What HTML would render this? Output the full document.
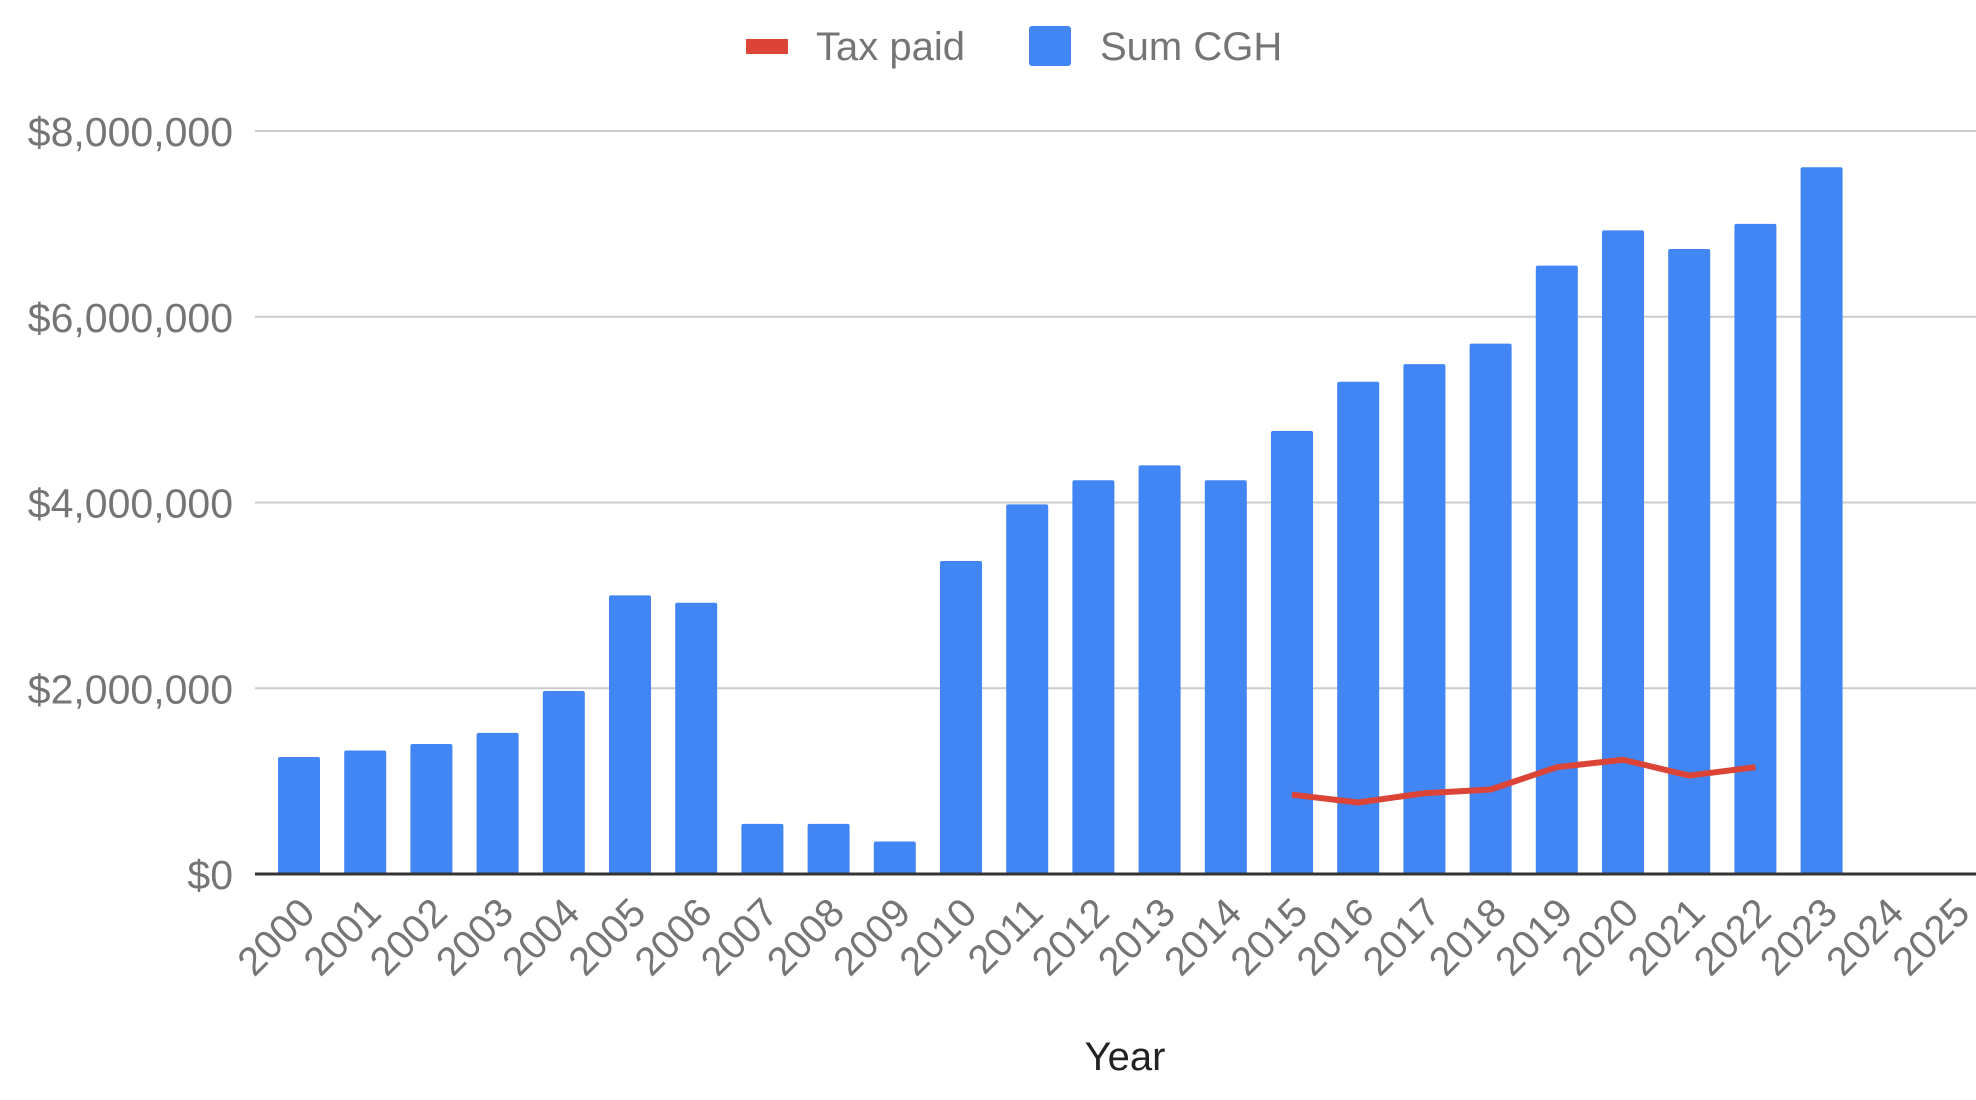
<!DOCTYPE html>
<html><head><meta charset="utf-8"><style>
html,body{margin:0;padding:0;background:#fff;}
svg{display:block;font-family:"Liberation Sans",Arial,sans-serif;}
</style></head><body>
<svg id="chart" width="1976" height="1100" viewBox="0 0 1976 1100" xmlns="http://www.w3.org/2000/svg">
<g>
  <g>
    <rect x="746" y="39" width="42" height="15" fill="#db4437"/>
    <text x="816" y="60" font-size="40" fill="#757575">Tax paid</text>
  </g>
  <g>
    <rect x="1029" y="26" width="42" height="40" rx="3" fill="#4285f4"/>
    <text x="1100" y="60" font-size="40" fill="#757575">Sum CGH</text>
  </g>
</g>
<g id="grid"></g>
<g id="yaxis"></g>
<g id="bars"></g>
<line x1="255" y1="874" x2="1976" y2="874" stroke="#333" stroke-width="3"/>
<g id="line"></g>
<g id="xaxis"></g>
<text x="1125" y="1070" font-size="40" fill="#222" text-anchor="middle">Year</text>
</svg>
<script>
const categories = ["2000","2001","2002","2003","2004","2005","2006","2007","2008","2009","2010","2011","2012","2013","2014","2015","2016","2017","2018","2019","2020","2021","2022","2023","2024","2025"];
const sumCGH = [1260000,1330000,1400000,1520000,1970000,3000000,2920000,540000,540000,350000,3370000,3980000,4240000,4400000,4240000,4770000,5300000,5490000,5710000,6550000,6930000,6730000,7000000,7610000,null,null];
const taxPaid = [null,null,null,null,null,null,null,null,null,null,null,null,null,null,null,854000,770000,870000,910000,1150000,1230000,1060000,1150000,null,null,null];
const yTicks = [0,2000000,4000000,6000000,8000000];
const yTickLabels = ["$0","$2,000,000","$4,000,000","$6,000,000","$8,000,000"];

const NS="http://www.w3.org/2000/svg";
const y0=874, y8=131, band=66.2, firstCenter=299, barW=42;
function yScale(v){return y0-(v/8000000)*(y0-y8);}
function xScale(i){return firstCenter+i*band;}
function mk(tag,attrs,parent){const e=document.createElementNS(NS,tag);for(const k in attrs)e.setAttribute(k,attrs[k]);parent.appendChild(e);return e;}

const grid=document.getElementById('grid'), yax=document.getElementById('yaxis');
yTicks.forEach((t,i)=>{
  if(t>0){
    const l=mk('line',{x1:255,x2:1976,y1:yScale(t),y2:yScale(t),stroke:'#cccccc','stroke-width':2},grid);
    
    
  }
  const tx=mk('text',{x:233,y:yScale(t)+15,'font-size':41,fill:'#757575','text-anchor':'end'},yax);
  tx.textContent=yTickLabels[i];
  
  
});

const bars=document.getElementById('bars');
sumCGH.forEach((v,i)=>{
  if(v==null)return;
  const r=mk('rect',{x:xScale(i)-barW/2,y:yScale(v),width:barW,height:y0-yScale(v),fill:'#4285f4',rx:2},bars);
  
  
});

const pts=[];
taxPaid.forEach((v,i)=>{if(v!=null)pts.push(xScale(i)+','+yScale(v));});
const pl=mk('polyline',{points:pts.join(' '),fill:'none',stroke:'#db4437','stroke-width':6,'stroke-linejoin':'round'},document.getElementById('line'));



const xax=document.getElementById('xaxis');
categories.forEach((c,i)=>{
  const x=xScale(i)+18, y=915;
  const t=mk('text',{x:x,y:y,'font-size':40,fill:'#757575','text-anchor':'end',transform:'rotate(-45 '+x+' '+y+')'},xax);
  t.textContent=c;
  
  
});
</script>
</body></html>
